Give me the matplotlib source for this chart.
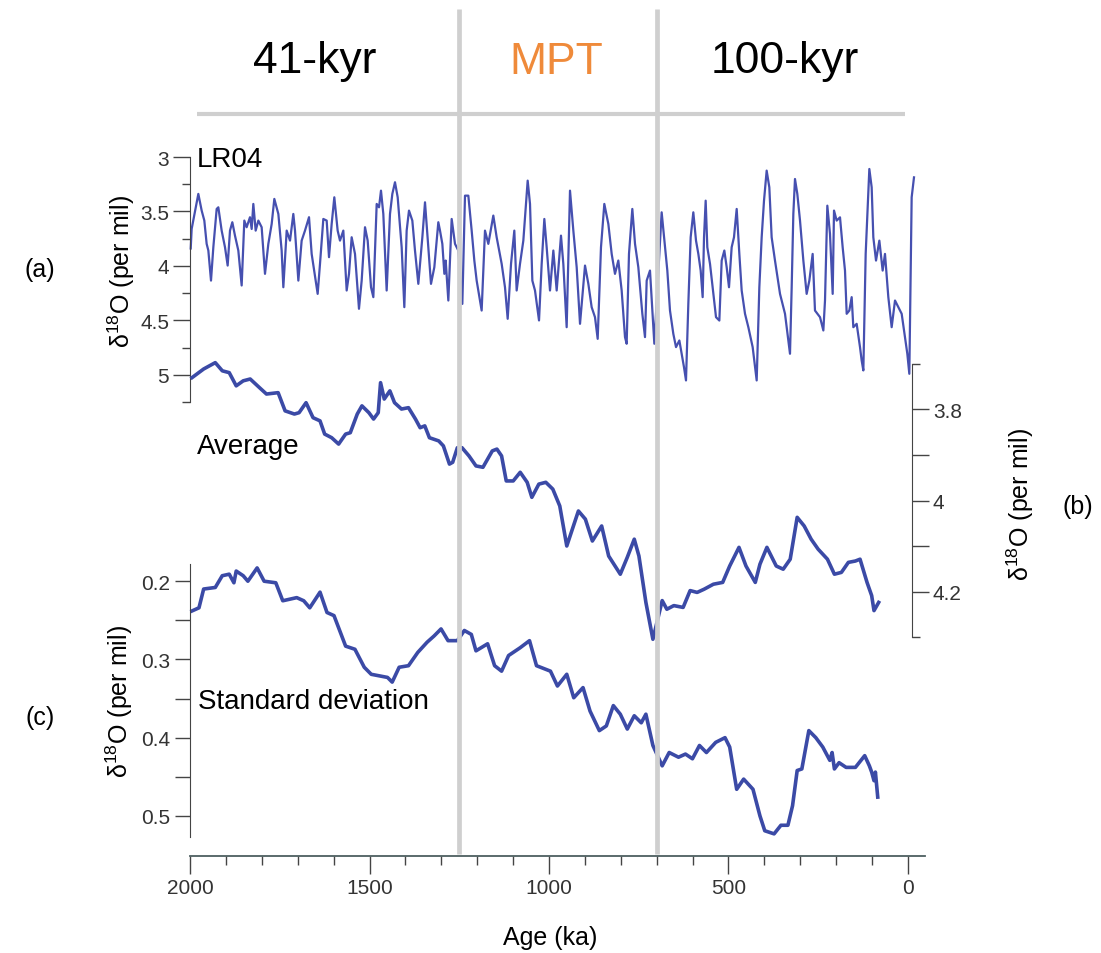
import numpy as np
import matplotlib.pyplot as plt

plt.rcParams['font.family'] = ['Liberation Sans', 'DejaVu Sans']
plt.rcParams['mathtext.fontset'] = 'custom'
plt.rcParams['mathtext.rm'] = 'Liberation Sans'
plt.rcParams['mathtext.it'] = 'Liberation Sans:italic'

# ---------------- data (age in ka, d18O in per mil) ----------------
lr04_age = [1998, 1995.4, 1976.8, 1967.5, 1960.1, 1953.6, 1948.9, 1941.5, 1935.0, 1925.7,
            1921.1, 1911.8, 1902.5, 1895.1, 1888.6, 1882.1, 1874.7, 1865.4, 1856.1, 1848.7,
            1842.2, 1832.9, 1828.2, 1823.6, 1817.1, 1809.6, 1800.4, 1791.1, 1781.8, 1772.5,
            1765.1, 1753.9, 1744.7, 1740.0, 1730.7, 1721.4, 1712.2, 1707.5, 1698.2, 1689.0,
            1679.7, 1668.5, 1661.1, 1650.0, 1644.4, 1637.9, 1628.6, 1619.3, 1612.8, 1605.4,
            1598.0, 1588.7, 1582.2, 1572.9, 1563.6, 1557.1, 1549.7, 1540.4, 1529.3, 1521.8,
            1512.5, 1505.1, 1495.8, 1489.3, 1480.0, 1473.5, 1468.0, 1461.5, 1452.2, 1442.9,
            1436.4, 1429.0, 1421.5, 1410.4, 1403.0, 1396.5, 1390.0, 1380.7, 1373.3, 1364.0,
            1352.8, 1345.4,
            1336.1, 1328.7, 1319.4, 1308.3, 1303.6, 1297.1, 1291.5, 1287.8, 1280.4, 1271.1,
            1261.8, 1252.6, 1241.4, 1234.0, 1224.7, 1215.4, 1208.0, 1201.5, 1192.2, 1187.6,
            1178.3, 1169.0, 1155.1, 1145.8, 1131.8, 1122.6, 1115.1, 1105.8, 1096.6, 1090.1,
            1080.8, 1071.5, 1059.4, 1052.9, 1046.4, 1039.0, 1027.8, 1020.4, 1013.0, 1006.5,
            997.2, 987.9, 978.6, 966.6, 960.1, 950.8, 941.5, 932.2, 922.9, 913.6,
            899.7, 890.4, 881.2, 871.9, 864.4, 855.2, 845.9, 834.7, 825.4, 816.2,
            806.9, 797.6, 788.3, 783.7, 777.2, 767.9, 760.4, 751.2, 740.0, 732.6,
            727.9, 718.7, 706.6,
            686.2, 676.9, 670.4, 663.0, 653.7, 646.2, 636.9, 630.5, 624.0, 618.4,
            611.9, 605.4, 598.0, 590.5, 584.0, 577.5, 572.0, 568.2, 563.6, 559.0,
            551.5, 542.2, 534.8, 525.5, 519.0, 511.6, 505.1, 498.6, 491.2, 484.7,
            477.2, 469.8, 463.3, 454.0, 444.7, 432.7, 421.5, 414.1, 407.6, 401.1,
            393.7, 386.3, 379.8, 370.5, 356.5, 342.6, 328.7, 324.0, 319.4, 314.8,
            308.3, 300.8, 291.5, 282.3, 274.8, 265.6, 259.1, 245.1, 235.8, 231.2,
            224.7, 217.3, 209.8, 206.1, 198.7, 189.4, 182.0, 175.5, 170.8, 163.4,
            156.9, 152.3, 143.0, 133.7, 129.1, 124.4, 117.9, 107.7, 101.2, 96.6,
            89.1, 79.8, 70.6, 64.1, 54.8, 45.5, 36.2, 26.9, 17.6, 8.4,
            1.9, -3.7, -10.2, -16.7]
lr04_d18o = [3.84, 3.661, 3.339, 3.492, 3.584, 3.798, 3.859, 4.135, 3.829, 3.477,
             3.462, 3.676, 3.829, 3.997, 3.676, 3.599, 3.722, 3.859, 4.180, 3.584,
             3.645, 3.553, 3.661, 3.431, 3.676, 3.584, 3.645, 4.073, 3.798, 3.615,
             3.385, 3.523, 3.859, 4.196, 3.676, 3.768, 3.523, 3.676, 4.135, 3.768,
             3.676, 3.553, 3.890, 4.135, 4.257, 3.982, 3.569, 3.584, 3.920, 3.615,
             3.370, 3.676, 3.768, 3.676, 4.226, 4.073, 3.737, 3.890, 4.394, 4.135,
             3.645, 3.768, 4.196, 4.287, 3.431, 3.462, 3.309, 3.523, 4.226, 3.523,
             3.339, 3.232, 3.370, 3.829, 4.379, 3.676, 3.492, 3.584, 3.859, 4.165,
             3.737, 3.416,
             3.829, 4.165, 4.012, 3.599, 3.676, 3.798, 4.073, 3.951, 4.318, 3.569,
             3.798, 3.859, 4.349, 3.355, 3.355, 3.676, 3.951, 4.135, 4.318, 4.410,
             3.676, 3.798, 3.538, 3.737, 3.982, 4.196, 4.486, 3.982, 3.676, 4.226,
             3.982, 3.768, 3.217, 3.431, 4.135, 4.226, 4.501, 3.982, 3.569, 3.829,
             4.226, 3.859, 4.226, 3.722, 3.982, 4.563, 3.309, 3.676, 4.012, 4.532,
             3.997, 4.165, 4.379, 4.471, 4.670, 3.829, 3.431, 3.615, 3.890, 4.073,
             3.951, 4.226, 4.654, 4.715, 3.890, 3.477, 3.798, 4.012, 4.440, 4.654,
             4.135, 4.043, 4.715,
             3.508, 3.829, 4.043, 4.410, 4.624, 4.746, 4.685, 4.807, 4.930, 5.052,
             4.349, 3.737, 3.508, 3.768, 3.890, 4.043, 4.287, 3.737, 3.401, 3.829,
             3.982, 4.257, 4.471, 4.502, 3.951, 3.859, 4.012, 4.196, 3.829, 3.737,
             3.477, 3.890, 4.226, 4.440, 4.563, 4.746, 5.052, 4.196, 3.737, 3.401,
             3.125, 3.278, 3.737, 3.951, 4.257, 4.440, 4.807, 4.196, 3.523, 3.202,
             3.339, 3.584, 3.951, 4.257, 4.135, 3.890, 4.410, 4.471, 4.593, 4.318,
             3.447, 3.706, 4.257, 3.492, 3.584, 3.554, 3.829, 4.043, 4.440, 4.410,
             4.287, 4.563, 4.532, 4.746, 4.868, 4.960, 3.890, 3.110, 3.278, 3.737,
             3.951, 3.768, 4.043, 3.890, 4.287, 4.563, 4.318, 4.379, 4.440, 4.654,
             4.807, 4.991, 3.370, 3.187]

avg_age = [1994.4, 1962.0, 1929.6, 1910.0, 1890.7, 1871.3, 1851.8, 1832.3, 1806.4, 1787.0,
           1754.5, 1735.1, 1709.2, 1696.2, 1676.7, 1657.3, 1637.8, 1624.9, 1605.4, 1586.0,
           1566.5, 1553.5, 1534.1, 1521.1, 1501.7, 1488.7, 1475.7, 1469.2, 1458.9, 1443.3,
           1430.3, 1410.9, 1391.4, 1372.0, 1359.0, 1346.0, 1333.1, 1307.2, 1294.2, 1277.3,
           1268.3, 1255.3, 1242.3, 1222.9, 1203.4, 1184.0, 1158.0, 1145.1, 1132.1, 1119.1,
           1099.7, 1080.2, 1060.8, 1047.8, 1028.3, 1008.9, 989.4, 970.0, 950.5, 918.1,
           898.7, 879.2, 853.3, 833.8, 801.4, 782.0, 762.5, 749.5, 730.1, 710.6,
           684.7, 671.7, 652.3, 626.4, 606.9, 587.4, 568.0, 542.1, 516.2, 496.7,
           470.8, 451.3, 425.4, 412.4, 393.0, 367.0, 347.6, 328.1, 308.7, 289.2,
           269.8, 250.3, 224.4, 205.0, 185.5, 166.1, 146.5, 133.6, 114.1, 101.2,
           94.7, 81.7]
avg_d18o = [3.730, 3.711, 3.697, 3.715, 3.719, 3.748, 3.737, 3.733, 3.752, 3.766,
            3.763, 3.803, 3.810, 3.807, 3.785, 3.818, 3.825, 3.854, 3.862, 3.876,
            3.854, 3.851, 3.810, 3.792, 3.807, 3.821, 3.807, 3.741, 3.777, 3.759,
            3.785, 3.799, 3.796, 3.821, 3.840, 3.836, 3.862, 3.869, 3.880, 3.920,
            3.916, 3.884, 3.884, 3.902, 3.924, 3.927, 3.891, 3.887, 3.902, 3.957,
            3.957, 3.938, 3.960, 3.993, 3.964, 3.960, 3.975, 4.012, 4.100, 4.023,
            4.041, 4.089, 4.056, 4.122, 4.162, 4.125, 4.085, 4.122, 4.224, 4.305,
            4.220, 4.239, 4.231, 4.235, 4.198, 4.202, 4.195, 4.184, 4.180, 4.144,
            4.103, 4.144, 4.180, 4.140, 4.103, 4.144, 4.151, 4.129, 4.037, 4.056,
            4.085, 4.107, 4.129, 4.162, 4.158, 4.136, 4.133, 4.129, 4.180, 4.209,
            4.242, 4.224]

std_age = [1994.4, 1975.0, 1962.0, 1929.6, 1910.2, 1890.7, 1877.7, 1871.3, 1851.8, 1838.8,
           1813.0, 1793.5, 1761.0, 1741.6, 1702.7, 1683.2, 1666.4, 1637.8, 1618.4, 1598.9,
           1566.5, 1540.6, 1514.6, 1495.2, 1449.8, 1436.8, 1417.4, 1391.4, 1365.5, 1339.6,
           1320.1, 1300.7, 1281.2, 1255.3, 1235.8, 1216.4, 1203.4, 1171.0, 1151.5, 1132.1,
           1112.6, 1080.2, 1054.3, 1034.8, 995.9, 976.5, 950.5, 931.1, 905.2, 885.7,
           859.8, 840.3, 820.8, 801.4, 781.9, 762.5, 743.0, 730.1, 710.6, 701.6,
           684.7, 665.2, 639.3, 619.9, 600.4, 580.9, 561.5, 535.6, 509.7, 496.7,
           477.2, 457.8, 431.8, 412.4, 399.0, 373.0, 354.0, 334.5, 321.6, 308.7,
           295.7, 276.2, 256.8, 237.4, 217.8, 211.4, 205.0, 192.0, 172.5, 146.5,
           120.6, 107.6, 101.2, 94.7, 90.8, 84.3]
std_d18o = [0.238, 0.234, 0.210, 0.208, 0.193, 0.191, 0.202, 0.187, 0.193, 0.200,
            0.183, 0.200, 0.202, 0.225, 0.221, 0.225, 0.234, 0.214, 0.240, 0.244,
            0.283, 0.287, 0.310, 0.319, 0.323, 0.329, 0.310, 0.308, 0.291, 0.278,
            0.270, 0.261, 0.276, 0.276, 0.263, 0.268, 0.289, 0.280, 0.308, 0.315,
            0.295, 0.285, 0.276, 0.308, 0.315, 0.334, 0.319, 0.349, 0.336, 0.366,
            0.391, 0.385, 0.359, 0.370, 0.389, 0.372, 0.381, 0.370, 0.410, 0.419,
            0.436, 0.419, 0.425, 0.421, 0.427, 0.410, 0.419, 0.406, 0.400, 0.412,
            0.466, 0.453, 0.466, 0.500, 0.519, 0.523, 0.512, 0.512, 0.487, 0.442,
            0.440, 0.391, 0.400, 0.412, 0.429, 0.419, 0.440, 0.432, 0.438, 0.438,
            0.423, 0.436, 0.444, 0.455, 0.444, 0.476]

mpt_bounds = [1250, 700]
phases = ['41-kyr', 'MPT', '100-kyr']

# ---------------- layout helpers (pixel based) ----------------
W, H = 1101, 954
PX_PER_KA = 0.359
BLUE = '#3b4aa6'
GRAY = '#cfcfcf'
TICK = '#444444'

fig = plt.figure(figsize=(W / 100, H / 100), dpi=100)


def ka_at(px):
    return 2000 - (px - 190) / PX_PER_KA


def add_ax(x0, x1, y0, y1):
    ax = fig.add_axes([x0 / W, 1 - y1 / H, (x1 - x0) / W, (y1 - y0) / H])
    ax.set_xlim(ka_at(x0), ka_at(x1))
    ax.patch.set_alpha(0)
    for s in ax.spines.values():
        s.set_visible(False)
    ax.set_xticks([])
    return ax


def ftext(x, y, s, **kw):
    return fig.text(x / W, 1 - y / H, s, **kw)


# (a) LR04
ax_a = add_ax(190, 912, 158, 403)
ax_a.plot(lr04_age, lr04_d18o, color='#4650b0', lw=1.6, clip_on=False)
ax_a.set_ylim(5.25, 3.0)
ax_a.spines['left'].set_visible(True)
ax_a.spines['left'].set_color(TICK)
ax_a.set_yticks([3, 3.5, 4, 4.5, 5], ['3', '3.5', '4', '4.5', '5'])
ax_a.set_yticks([3.25, 3.75, 4.25, 4.75, 5.25], minor=True)
ax_a.tick_params(axis='y', which='major', length=12, width=1.0, color=TICK,
                 labelsize=15, labelcolor='#333333', pad=3)
ax_a.tick_params(axis='y', which='minor', length=6, width=1.0, color=TICK)

# (b) average
ax_b = add_ax(190, 912, 365, 638)
ax_b.plot(avg_age, avg_d18o, color=BLUE, lw=2.6, clip_on=False)
ax_b.set_ylim(4.3, 3.7)
ax_b.spines['right'].set_visible(True)
ax_b.spines['right'].set_color(TICK)
ax_b.yaxis.tick_right()
ax_b.set_yticks([3.8, 3.9, 4.0, 4.1, 4.2], ['3.8', '', '4', '', '4.2'])
ax_b.set_yticks([3.7, 4.3], minor=True)
ax_b.tick_params(axis='y', which='major', length=12, width=1.0, color=TICK,
                 labelsize=15, labelcolor='#333333', pad=3)
ax_b.tick_params(axis='y', which='minor', length=6, width=1.0, color=TICK)

# (c) standard deviation
ax_c = add_ax(190, 912, 565, 838)
ax_c.plot(std_age, std_d18o, color=BLUE, lw=2.6, clip_on=False)
ax_c.set_ylim(0.527, 0.178)
ax_c.spines['left'].set_visible(True)
ax_c.spines['left'].set_color(TICK)
ax_c.set_yticks([0.2, 0.3, 0.4, 0.5], ['0.2', '0.3', '0.4', '0.5'])
ax_c.set_yticks([0.25, 0.35, 0.45], minor=True)
ax_c.tick_params(axis='y', which='both', length=11, width=1.0, color=TICK,
                 labelsize=15, labelcolor='#333333', pad=3)

# shared age axis
ax_x = add_ax(190, 925, 820, 857)
ax_x.set_yticks([])
ax_x.spines['bottom'].set_visible(True)
ax_x.spines['bottom'].set_color('#4d5f60')
ax_x.spines['bottom'].set_linewidth(1.3)
ax_x.set_xticks([2000, 1500, 1000, 500, 0], ['2000', '1500', '1000', '500', '0'])
ax_x.set_xticks(np.arange(0, 2001, 100), minor=True)
ax_x.tick_params(axis='x', which='major', length=13, width=1.0, color=TICK,
                 labelsize=15, labelcolor='#333333', pad=3)
ax_x.tick_params(axis='x', which='minor', length=6.5, width=1.0, color=TICK)

# overlay: phase boundaries and header rule
ov = fig.add_axes([0, 0, 1, 1])
ov.set_xlim(ka_at(0), ka_at(W))
ov.set_ylim(H, 0)
ov.axis('off')
ov.vlines(mpt_bounds, 10, 855, color=GRAY, lw=3.4)
ov.hlines(115, ka_at(197), ka_at(905), color=GRAY, lw=3.0)

# header text
ftext(315, 62, phases[0], fontsize=32, ha='center', va='center', color='black')
ftext(556, 62, phases[1], fontsize=32, ha='center', va='center', color='#ef8a3a')
ftext(785, 62, phases[2], fontsize=32, ha='center', va='center', color='black')

# panel annotations
ftext(197, 160, 'LR04', fontsize=20, va='center')
ftext(197, 447, 'Average', fontsize=20, va='center')
ftext(198, 702, 'Standard deviation', fontsize=20, va='center')

ylab = r'δ$^{\mathrm{18}}$O (per mil)'
ftext(121, 272, ylab, fontsize=18, rotation=90, ha='center', va='center')
ftext(119, 702, ylab, fontsize=18, rotation=90, ha='center', va='center')
ftext(1020, 505, ylab, fontsize=18, rotation=90, ha='center', va='center')
ftext(40, 270, '(a)', fontsize=18, ha='center', va='center')
ftext(1078, 507, '(b)', fontsize=18, ha='center', va='center')
ftext(40, 718, '(c)', fontsize=18, ha='center', va='center')
ftext(550, 938, 'Age (ka)', fontsize=18, ha='center', va='center')

fig.savefig('out.png', dpi=100)
